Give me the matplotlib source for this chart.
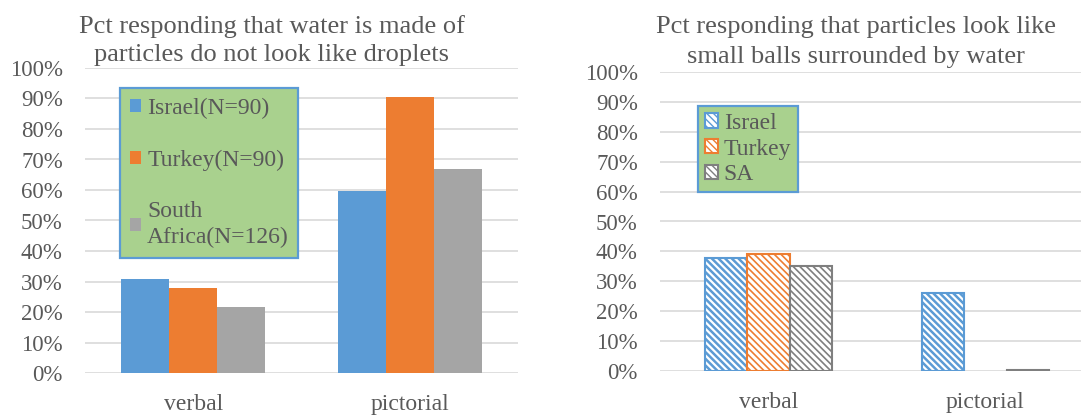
import numpy as np
import matplotlib
matplotlib.use("Agg")
import matplotlib.pyplot as plt
from matplotlib.ticker import FuncFormatter

# data (percent)
categories = ["verbal", "pictorial"]

left_title = ["Pct responding that water is made of",
              "particles do not look like droplets"]
left_labels = ["Israel(N=90)", "Turkey(N=90)", "South\nAfrica(N=126)"]
left_israel = [30.8, 59.7]
left_turkey = [27.8, 90.6]
left_sa = [21.6, 66.8]

right_title = ["Pct responding that particles look like",
               "small balls surrounded by water"]
right_labels = ["Israel", "Turkey", "SA"]
right_israel = [37.7, 26.2]
right_turkey = [39.1, 0.0]
right_sa = [35.2, 0.4]

yticks = list(range(0, 101, 10))

colors = ["#5B9BD5", "#ED7D31", "#A5A5A5"]
hatch_colors = ["#5B9BD5", "#ED7D31", "#7F7F7F"]
text_color = "#595959"
grid_color = "#D9D9D9"

plt.rcParams["font.family"] = ["Liberation Serif", "DejaVu Serif"]
plt.rcParams["font.size"] = 17
plt.rcParams["text.color"] = text_color

W, H = 1081, 415
fig = plt.figure(figsize=(W / 100, H / 100), dpi=100)


def style_axes(ax):
    ax.set_ylim(0, 100)
    ax.set_xlim(-0.5, 1.5)
    ax.set_yticks(yticks)
    ax.yaxis.set_major_formatter(FuncFormatter(lambda v, p: "%d%%" % v))
    ax.set_xticks(np.arange(len(categories)))
    ax.set_xticklabels(categories)
    for s in ax.spines.values():
        s.set_visible(False)
    ax.grid(axis="y", color=grid_color, linewidth=1.2)
    ax.set_axisbelow(True)
    ax.tick_params(axis="both", length=0, colors=text_color, labelsize=16.5)
    ax.tick_params(axis="y", pad=16)
    ax.tick_params(axis="x", pad=15, labelsize=17)


# left chart: solid bars
ax1 = fig.add_axes([85 / W, (H - 373) / H, 433 / W, 305 / H])
x = np.arange(len(categories))
w1 = 0.222
for i, (vals, lab) in enumerate(zip([left_israel, left_turkey, left_sa], left_labels)):
    ax1.bar(x + (i - 1) * w1, vals, w1, color=colors[i], label=lab, linewidth=0)
style_axes(ax1)
leg1 = ax1.legend(loc="upper left", bbox_to_anchor=(0.081, 0.934), frameon=True,
                  fancybox=False, facecolor="#A9D18E", edgecolor="#5B9BD5",
                  framealpha=1, handlelength=0.5, handleheight=0.5,
                  handletextpad=0.25, labelspacing=1.3, borderpad=0.4,
                  borderaxespad=0, fontsize=17, labelcolor=text_color)
leg1.get_frame().set_linewidth(1.6)
for t in leg1.get_texts():
    t.set_linespacing(1.3)

# right chart: hatched bars
ax2 = fig.add_axes([660 / W, (H - 371) / H, 434 / W, 299 / H])
w2 = 0.195
hatch_lw = [1.8, 1.2, 1.2]
for i, (vals, lab) in enumerate(zip([right_israel, right_turkey, right_sa], right_labels)):
    with plt.rc_context({"hatch.linewidth": hatch_lw[i], "hatch.color": hatch_colors[i]}):
        bars = ax2.bar(x + (i - 1) * w2, vals, w2, facecolor="white",
                       edgecolor=hatch_colors[i] if i else colors[i],
                       hatch="\\" * 5, linewidth=1.5, label=lab)
    for b in bars:
        if b.get_height() == 0:
            b.set_visible(False)
style_axes(ax2)
leg2 = ax2.legend(loc="upper left", bbox_to_anchor=(0.087, 0.887), frameon=True,
                  fancybox=False, facecolor="#A9D18E", edgecolor="#5B9BD5",
                  framealpha=1, handlelength=0.55, handleheight=0.55,
                  handletextpad=0.25, labelspacing=0.2, borderpad=0.3,
                  borderaxespad=0, fontsize=17, labelcolor=text_color)
leg2.get_frame().set_linewidth(1.6)

# titles
fig.text(272 / W, 1 - 33 / H, left_title[0], ha="center", va="baseline", fontsize=19)
fig.text(272 / W, 1 - 61 / H, left_title[1], ha="center", va="baseline", fontsize=19)
fig.text(856 / W, 1 - 33 / H, right_title[0], ha="center", va="baseline", fontsize=19)
fig.text(856 / W, 1 - 63 / H, right_title[1], ha="center", va="baseline", fontsize=19)

fig.savefig("out.png", dpi=100, facecolor="white")
